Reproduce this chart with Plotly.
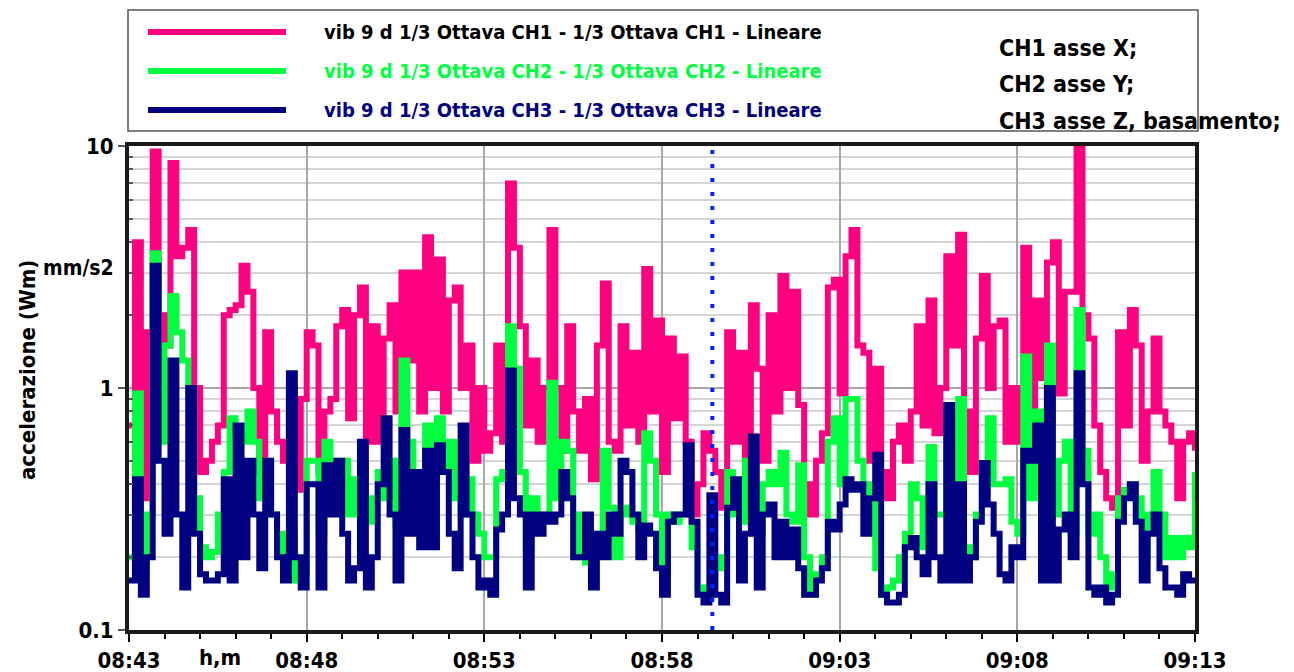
import plotly.graph_objects as go
import pandas as pd

# ---------------- data ----------------
START = "2024-01-01 08:43:00"
END = "2024-01-01 09:13:00"
STEP = "10s"
CURSOR_TIME = "2024-01-01 08:59:25"

ch1 = [0.7, 4.0, 0.35, 1.7, 9.5, 2.0, 1.5, 8.5, 3.5, 3.8, 4.5, 1.0, 0.45, 0.5, 0.6, 0.7, 2.0, 2.1, 2.2, 3.2, 2.5, 1.0, 0.45, 1.7, 0.8, 0.6, 0.5, 1.0, 0.38, 0.9, 1.7,
       1.5, 0.45, 0.8, 0.9, 1.8, 2.1, 0.75, 2.0, 2.6, 0.6, 1.8, 0.6, 1.6, 2.2, 0.8, 3.0, 1.3, 3.0, 0.8, 4.2, 1.0, 3.4, 0.8, 2.3, 2.6, 1.0, 1.5, 0.5, 1.0, 0.55,
       0.65, 1.5, 0.6, 7.0, 3.8, 1.8, 0.7, 1.3, 0.6, 1.0, 4.5, 1.0, 0.55, 1.8, 0.8, 0.55, 0.9, 0.42, 1.5, 2.7, 0.6, 0.55, 1.8, 0.7, 1.4, 0.6, 3.1, 0.8, 1.9, 0.45, 1.6,
       0.75, 1.35, 0.6, 0.3, 0.4, 0.65, 0.55, 0.45, 0.32, 1.7, 0.6, 1.4, 0.5, 2.2, 1.2, 0.5, 2.0, 0.8, 2.9, 1.0, 2.5, 0.85, 0.4, 0.3, 0.5, 0.65, 2.6, 2.8, 0.95, 3.5,
       4.5, 1.5, 1.4, 0.5, 1.2, 0.45, 0.35, 0.6, 0.7, 0.5, 0.8, 1.8, 0.7, 2.3, 0.65, 1.0, 3.5, 1.5, 4.3, 0.8, 0.45, 1.6, 2.9, 1.0, 1.8, 1.9, 0.6, 1.0, 0.6, 3.8,
       0.8, 2.3, 1.1, 3.3, 4.0, 0.95, 2.5, 2.5, 9.8, 2.0, 1.6, 0.7, 0.45, 0.35, 0.32, 1.7, 0.7, 2.1, 1.5, 0.5, 0.8, 1.6, 0.8, 0.7, 0.6, 0.35, 0.6, 0.65, 0.55]

ch2 = [0.2, 0.95, 0.18, 0.3, 3.6, 0.6, 1.5, 2.4, 1.7, 1.3, 0.95, 0.35, 0.22, 0.2, 0.21, 0.3, 0.45, 0.75, 0.65, 0.6, 0.8, 0.6, 0.35, 0.5, 0.3, 0.25, 0.2, 0.25, 0.16, 0.17, 0.5,
       0.5, 0.25, 0.6, 0.48, 0.5, 0.5, 0.3, 0.42, 0.48, 0.28, 0.35, 0.45, 0.35, 0.5, 0.27, 1.3, 0.6, 0.45, 0.45, 0.7, 0.45, 0.75, 0.45, 0.6, 0.35, 0.3, 0.42, 0.3, 0.25, 0.2,
       0.2, 0.42, 0.45, 1.8, 1.2, 0.45, 0.22, 0.35, 0.3, 0.3, 1.05, 0.35, 0.6, 0.55, 0.3, 0.2, 0.19, 0.25, 0.22, 0.55, 0.32, 0.2, 0.3, 0.32, 0.28, 0.26, 0.65, 0.5, 0.3, 0.17, 0.3,
       0.28, 0.3, 0.3, 0.22, 0.15, 0.14, 0.15, 0.18, 0.2, 0.45, 0.3, 0.28, 0.5, 0.3, 0.25, 0.4, 0.45, 0.4, 0.54, 0.3, 0.28, 0.48, 0.2, 0.14, 0.17, 0.2, 0.6, 0.75, 0.4, 0.9,
       0.9, 0.5, 0.4, 0.35, 0.18, 0.14, 0.15, 0.16, 0.2, 0.25, 0.4, 0.35, 0.22, 0.57, 0.3, 0.3, 0.8, 0.4, 0.9, 0.22, 0.2, 0.3, 0.45, 0.75, 0.4, 0.4, 0.42, 0.28, 0.25, 1.35,
       0.35, 0.8, 0.25, 1.5, 0.3, 0.5, 0.6, 0.25, 2.1, 0.55, 0.25, 0.3, 0.2, 0.15, 0.17, 0.35, 0.38, 0.4, 0.35, 0.2, 0.3, 0.45, 0.3, 0.2, 0.24, 0.2, 0.24, 0.22, 0.45]

ch3 = [0.16, 0.42, 0.14, 0.2, 3.2, 0.5, 0.25, 1.3, 0.3, 0.15, 1.0, 0.25, 0.17, 0.16, 0.16, 0.17, 0.42, 0.16, 0.7, 0.2, 0.5, 0.3, 0.18, 0.5, 0.3, 0.2, 0.16, 1.15, 0.2, 0.15, 0.4,
       0.4, 0.15, 0.48, 0.3, 0.5, 0.25, 0.16, 0.18, 0.6, 0.15, 0.2, 0.4, 0.75, 0.3, 0.16, 0.67, 0.25, 0.45, 0.22, 0.55, 0.22, 0.58, 0.45, 0.25, 0.18, 0.7, 0.3, 0.2, 0.15, 0.16,
       0.14, 0.26, 0.3, 1.18, 0.35, 0.3, 0.15, 0.3, 0.25, 0.3, 0.28, 0.3, 0.45, 0.35, 0.2, 0.2, 0.3, 0.15, 0.25, 0.2, 0.3, 0.25, 0.5, 0.45, 0.3, 0.2, 0.27, 0.25, 0.18, 0.14, 0.28,
       0.3, 0.3, 0.58, 0.28, 0.14, 0.13, 0.36, 0.14, 0.13, 0.32, 0.42, 0.16, 0.25, 0.63, 0.15, 0.3, 0.33, 0.2, 0.28, 0.2, 0.26, 0.18, 0.14, 0.14, 0.16, 0.18, 0.28, 0.26, 0.33, 0.42,
       0.38, 0.4, 0.25, 0.35, 0.53, 0.14, 0.13, 0.13, 0.14, 0.22, 0.24, 0.2, 0.17, 0.4, 0.2, 0.16, 0.85, 0.16, 0.4, 0.16, 0.2, 0.28, 0.49, 0.33, 0.25, 0.17, 0.16, 0.22, 0.2, 0.55,
       0.5, 0.7, 0.16, 1.0, 0.16, 0.26, 0.3, 0.2, 1.15, 0.4, 0.15, 0.14, 0.15, 0.13, 0.14, 0.28, 0.35, 0.4, 0.28, 0.16, 0.25, 0.3, 0.18, 0.15, 0.15, 0.14, 0.17, 0.16, 0.16]

series_names = [
    "vib 9 d 1/3 Ottava CH1 - 1/3 Ottava CH1 - Lineare",
    "vib 9 d 1/3 Ottava CH2 - 1/3 Ottava CH2 - Lineare",
    "vib 9 d 1/3 Ottava CH3 - 1/3 Ottava CH3 - Lineare",
]
side_notes = ["CH1 asse X;", "CH2 asse Y;", "CH3 asse Z, basamento;"]
y_ticks = [0.1, 1, 10]
y_ticktext = ["0.1", "1", "10"]
y_minor = [v * m for m in (0.1, 1) for v in range(2, 10)]

# ---------------- styling ----------------
COLORS = ["#ff0080", "#00ff40", "#000080"]
FONT = "DejaVu Sans Condensed, Liberation Sans Narrow, sans-serif"
OFF = 8                      # page body margin of the browser
W, H = 1294 - OFF, 672 - OFF
L, R, T, B = 129 - OFF, 99, 146 - OFF, 42
PW, PH = W - L - R, H - T - B


def px(x):
    """screen x pixel -> paper coordinate"""
    return (x - OFF - L) / PW


def py(y):
    """screen y pixel -> paper coordinate"""
    return (H - B - (y - OFF)) / PH


def fnt(size, color="#000000"):
    return dict(family=FONT, size=size, color=color, weight="bold")


times = pd.date_range(START, periods=len(ch1), freq=STEP)

fig = go.Figure()
for vals, name, col in zip([ch1, ch2, ch3], series_names, COLORS):
    fig.add_trace(go.Scatter(
        x=times[:len(vals)], y=vals, mode="lines", name=name,
        line=dict(color=col, width=6, shape="hv"), showlegend=False,
    ))

shapes = [
    dict(type="line", xref="x", yref="paper", x0=CURSOR_TIME, x1=CURSOR_TIME, y0=0, y1=1,
         line=dict(color="#0022ff", width=4, dash="4px,10px")),
    dict(type="rect", xref="paper", yref="paper", x0=px(128), x1=px(1198), y0=py(131), y1=py(10),
         line=dict(color="#555555", width=1.5), fillcolor="rgba(0,0,0,0)", layer="below"),
]
annotations = []
leg_y = [32, 71, 110]
for yy, name, col in zip(leg_y, series_names, COLORS):
    shapes.append(dict(type="line", xref="paper", yref="paper", x0=px(148), x1=px(286), y0=py(yy), y1=py(yy),
                       line=dict(color=col, width=6)))
    annotations.append(dict(xref="paper", yref="paper", x=px(322), y=py(yy), xanchor="left", yanchor="middle",
                            text=name, showarrow=False,
                            font=fnt(20, "#000000" if col == COLORS[0] else col)))
for yy, txt in zip([48, 84, 121], side_notes):
    annotations.append(dict(xref="paper", yref="paper", x=px(997), y=py(yy), xanchor="left", yanchor="middle",
                            text=txt, showarrow=False, font=fnt(23)))
annotations += [
    dict(xref="paper", yref="paper", x=px(78), y=py(268), text="mm/s2", showarrow=False,
         xanchor="center", yanchor="middle", font=fnt(21)),
    dict(xref="paper", yref="paper", x=px(220), y=py(657), text="h,m", showarrow=False,
         xanchor="center", yanchor="middle", font=fnt(22)),
    dict(xref="paper", yref="paper", x=px(27), y=py(370), text="accelerazione (Wm)", showarrow=False,
         textangle=-90, xanchor="center", yanchor="middle", font=fnt(22)),
]

fig.update_layout(
    width=W, height=H, margin=dict(l=L, r=R, t=T, b=B, autoexpand=False),
    paper_bgcolor="white", plot_bgcolor="white",
    font=fnt(22),
    shapes=shapes, annotations=annotations,
)
fig.update_xaxes(
    type="date", range=[START, END], tickformat="%H:%M", dtick=300000, tick0=START,
    ticks="outside", ticklen=8, tickwidth=1.5, tickcolor="#000", automargin=False,
    showgrid=True, gridcolor="#a8a8a8", gridwidth=1.5,
    showline=True, linewidth=4, linecolor="#1a1a1a", mirror=True,
    minor=dict(dtick=60000, tick0=START, ticks="outside", ticklen=5, tickcolor="#000", showgrid=False),
    tickfont=fnt(22), zeroline=False,
)
fig.update_yaxes(
    type="log", range=[-1, 1], tickmode="array", tickvals=y_ticks, ticktext=y_ticktext,
    ticks="outside", ticklen=7, tickwidth=1.5, tickcolor="#555", automargin=False,
    showgrid=True, gridcolor="#a8a8a8", gridwidth=1.5,
    showline=True, linewidth=4, linecolor="#1a1a1a", mirror=True,
    minor=dict(tickmode="array", tickvals=y_minor, showgrid=True, gridcolor="#d4d4d4", gridwidth=2,
               ticks="inside", ticklen=4, tickcolor="#555"),
    tickfont=fnt(22), zeroline=False,
)

fig.write_html("out.html")
